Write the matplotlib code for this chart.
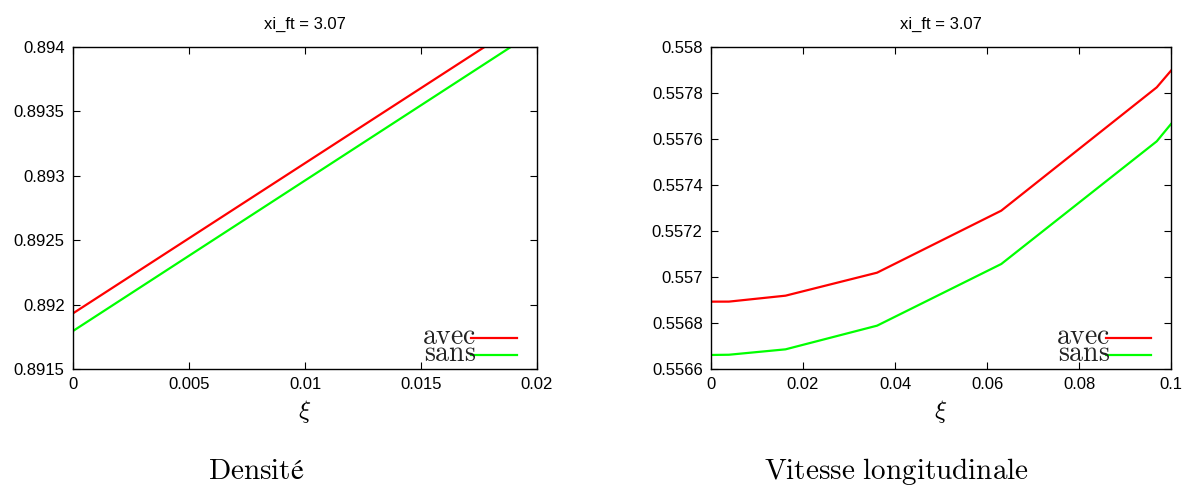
import numpy as np
import matplotlib
matplotlib.use('Agg')
import matplotlib.pyplot as plt
from matplotlib.lines import Line2D

plt.rcParams['font.family'] = ['Liberation Sans', 'DejaVu Sans']
plt.rcParams['mathtext.fontset'] = 'cm'

# Densite panel (straight lines, clipped by the y range)
dens_xi = [0.0, 0.02]
dens_avec = [0.891932, 0.894264]
dens_sans = [0.891795, 0.894132]

# Vitesse longitudinale panel
vit_xi = [0.0, 0.0039, 0.0162, 0.0361, 0.0631, 0.0969, 0.1]
vit_avec = [0.5568928, 0.5568930, 0.5569188, 0.5570188, 0.5572884, 0.5578246, 0.5578971]
vit_sans = [0.5566610, 0.5566620, 0.5566855, 0.5567884, 0.5570565, 0.5575899, 0.5576652]

title = 'xi_ft = 3.07'
captions = [r'$\mathrm{Densité}$', r'$\mathrm{Vitesse\ longitudinale}$']
labels = [r'$\mathrm{avec}$', r'$\mathrm{sans}$']
colors = ['#ff0000', '#00ff00']

fig = plt.figure(figsize=(11.83, 4.86), dpi=100)
ax1 = fig.add_axes([73 / 1183, 1 - 369 / 486, 464 / 1183, 322 / 486])
ax2 = fig.add_axes([711 / 1183, 1 - 369 / 486, 460 / 1183, 322 / 486])


def style_axis(ax, xlim, ylim, xticks, yticks, xfmt, yfmt):
    ax.set_xlim(*xlim)
    ax.set_ylim(*ylim)
    ax.set_xticks(xticks)
    ax.set_yticks(yticks)
    ax.set_xticklabels([xfmt(v) for v in xticks])
    ax.set_yticklabels([yfmt(v) for v in yticks])
    ax.tick_params(direction='in', length=5, width=0.8, top=True, right=True,
                   labelsize=12, pad=6)
    for s in ax.spines.values():
        s.set_linewidth(1.0)
    ax.set_title(title, fontsize=12, pad=13)
    ax.set_xlabel(r'$\xi$', fontsize=18, labelpad=4)
    # gnuplot-style key, bottom right
    for i, (lab, col) in enumerate(zip(labels, colors)):
        yy = 0.095 - i * 0.052
        ax.add_line(Line2D([0.858, 0.957], [yy, yy], transform=ax.transAxes,
                           color=col, lw=1.6, clip_on=False))
        ax.text(0.869, yy - 0.017, lab, transform=ax.transAxes, fontsize=20,
                ha='right', va='baseline', color='#222222')


def trim(v):
    s = ('%.4f' % v).rstrip('0').rstrip('.')
    return s


ax1.plot(dens_xi, dens_avec, color=colors[0], lw=1.6)
ax1.plot(dens_xi, dens_sans, color=colors[1], lw=1.6)
style_axis(ax1, (0, 0.02), (0.8915, 0.894),
           [0, 0.005, 0.01, 0.015, 0.02],
           [0.8915, 0.892, 0.8925, 0.893, 0.8935, 0.894],
           lambda v: trim(v) if v != 0 else '0', trim)

ax2.plot(vit_xi, vit_avec, color=colors[0], lw=1.6)
ax2.plot(vit_xi, vit_sans, color=colors[1], lw=1.6)
style_axis(ax2, (0, 0.1), (0.5566, 0.558),
           [0, 0.02, 0.04, 0.06, 0.08, 0.1],
           [0.5566, 0.5568, 0.557, 0.5572, 0.5574, 0.5576, 0.5578, 0.558],
           lambda v: trim(v) if v != 0 else '0', trim)

fig.text(256 / 1183, 1 - 479 / 486, captions[0], fontsize=21, ha='center', va='baseline')
fig.text(896 / 1183, 1 - 479 / 486, captions[1], fontsize=21, ha='center', va='baseline')

fig.savefig('out.png', dpi=100)
